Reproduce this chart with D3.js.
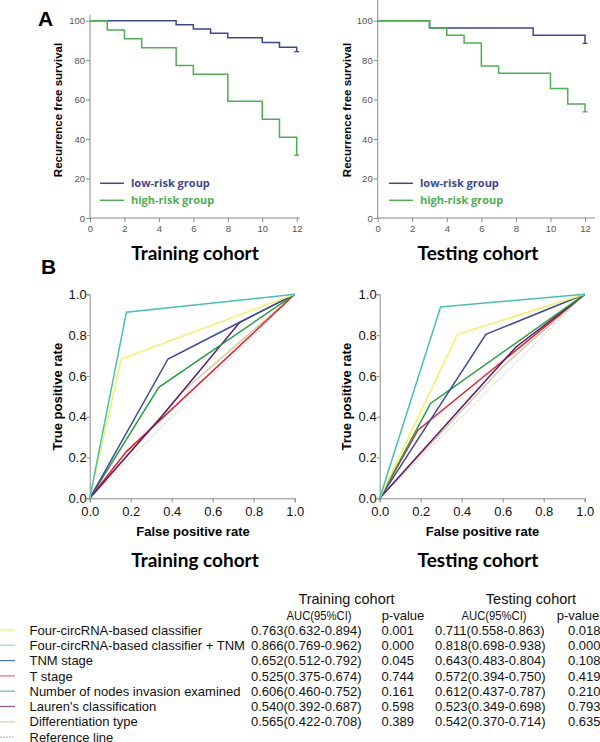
<!DOCTYPE html>
<html><head><meta charset="utf-8">
<script src="https://cdn.jsdelivr.net/npm/d3@7/dist/d3.min.js"></script>
<style>body{margin:0;background:#fff}svg{display:block}</style>
</head><body>
<svg id="c" width="600" height="742"></svg>
<script>
// ---------- DATA ----------
const kmMonths = [0,2,4,6,8,10,12];
const kmYTicks = [0,20,40,60,80,100];
const kmGroups = ["low-risk group","high-risk group"];
// [month, survival %]
const trainLow  = [[0,100],[5,98.0],[6,95.8],[7,93.6],[8,91.4],[10,89.0],[11,86.6],[12,84.3]];
const trainHigh = [[0,100],[1,95.3],[2,90.9],[3,86.3],[5,77.3],[6,72.9],[8,59.2],[10,50.1],[11,40.9],[12,31.8]];
const testLow   = [[0,100],[3,96.3],[9,92.6],[12,88.5]];
const testHigh  = [[0,100],[3,96.3],[4,92.6],[5,88.7],[6,77.1],[7,73.4],[10,65.6],[11,57.8],[12,53.8]];

const rocTicks = [0,0.2,0.4,0.6,0.8,1.0];
const rocNames = ["Four-circRNA-based classifier","Four-circRNA-based classifier + TNM","TNM stage","T stage","Number of nodes invasion examined","Lauren's classification","Differentiation type","Reference line"];
// [FPR, TPR] points
const rocTrain = [
  [[0,0],[0.154,0.683],[1,1]],
  [[0,0],[0.179,0.912],[1,1]],
  [[0,0],[0.382,0.683],[0.732,0.863],[1,1]],
  [[0,0],[0.179,0.229],[1,1]],
  [[0,0],[0.337,0.544],[1,1]],
  [[0,0],[0.35,0.40],[0.732,0.863],[1,1]],
  [[0,0],[0.45,0.52],[1,1]],
  [[0,0],[1,1]]
];
const rocTest = [
  [[0,0],[0.379,0.804],[1,1]],
  [[0,0],[0.297,0.938],[1,1]],
  [[0,0],[0.518,0.804],[1,1]],
  [[0,0],[0.186,0.334],[1,1]],
  [[0,0],[0.248,0.465],[1,1]],
  [[0,0],[0.665,0.742],[1,1]],
  [[0,0],[0.60,0.645],[1,1]],
  [[0,0],[1,1]]
];
const trainAUC = ["0.763(0.632-0.894)","0.866(0.769-0.962)","0.652(0.512-0.792)","0.525(0.375-0.674)","0.606(0.460-0.752)","0.540(0.392-0.687)","0.565(0.422-0.708)"];
const trainP   = ["0.001","0.000","0.045","0.744","0.161","0.598","0.389"];
const testAUC  = ["0.711(0.558-0.863)","0.818(0.698-0.938)","0.643(0.483-0.804)","0.572(0.394-0.750)","0.612(0.437-0.787)","0.523(0.349-0.698)","0.542(0.370-0.714)"];
const testP    = ["0.018","0.000","0.108","0.419","0.210","0.793","0.635"];

// ---------- STYLE ----------
const kmColors = ["#3b4795","#4cb050"];
const rocColors = ["#f4f060","#45c2b4","#3a4a9c","#e8202c","#24a040","#5a1a6e","#d9c9a2","#bbbbbb"];
const legColors = ["#f2ee70","#a6dad4","#5a76b6","#e57890","#76c690","#8a6094","#e9c4c4","#aaaaaa"];
const svg = d3.select("#c");
const axisCol = "#8a8a8a";

// ---------- KM PANELS ----------
function km(cfg){
  const x = d3.scaleLinear().domain([0,12]).range([cfg.x0,cfg.x1]);
  const y = d3.scaleLinear().domain([0,100]).range([218,20.7]);
  const g = svg.append("g");
  const ax = g.append("g").attr("transform",`translate(0,${y(0)})`)
    .call(d3.axisBottom(x).tickValues(kmMonths).tickSize(4).tickPadding(3));
  const ay = g.append("g").attr("transform",`translate(${x(0)},0)`)
    .call(d3.axisLeft(y).tickValues(kmYTicks).tickSize(4).tickPadding(1));
  [ax,ay].forEach(a=>{
    a.select(".domain").remove();
    a.selectAll("line").attr("stroke",axisCol);
    a.selectAll("text").attr("fill","#555").style("font-family","Liberation Sans, Arial").style("font-size","9.5px");
  });
  g.append("line").attr("x1",x(0)).attr("x2",cfg.xEnd).attr("y1",y(0)).attr("y2",y(0)).attr("stroke",axisCol);
  g.append("line").attr("x1",x(0)).attr("x2",x(0)).attr("y1",y(0)).attr("y2",cfg.yTop).attr("stroke",axisCol);
  const line = d3.line().x(d=>x(d[0])).y(d=>y(d[1])).curve(d3.curveStepAfter);
  cfg.series.forEach((s,i)=>{
    g.append("path").attr("d",line(s)).attr("fill","none").attr("stroke",kmColors[i]).attr("stroke-width",1.5);
    const last = s[s.length-1];
    g.append("line").attr("x1",x(last[0])-2.5).attr("x2",x(last[0])+2.5)
      .attr("y1",y(last[1])).attr("y2",y(last[1])).attr("stroke",kmColors[i]).attr("stroke-width",1.3);
  });
  kmGroups.forEach((n,i)=>{
    const yy = 183.3 + i*17;
    g.append("line").attr("x1",cfg.lx).attr("x2",cfg.lx+24).attr("y1",yy).attr("y2",yy)
      .attr("stroke",kmColors[i]).attr("stroke-width",1.5);
    g.append("text").attr("x",cfg.lx+31).attr("y",yy+4).text(n).attr("fill",kmColors[i])
      .style("font-family","Open Sans").style("font-weight","bold").style("font-size","11px");
  });
  g.append("text").attr("transform",`translate(${cfg.labX},110) rotate(-90)`).attr("text-anchor","middle")
    .text("Recurrence free survival").style("font-family","Liberation Sans, Arial").style("font-weight","bold").style("font-size","11.5px");
  g.append("text").attr("x",cfg.tx).attr("y",260).attr("text-anchor","middle").text(cfg.title)
    .style("font-family","Lato").style("font-weight","bold").style("font-size","19px");
}
km({x0:90,x1:296.7,xEnd:300,yTop:15,series:[trainLow,trainHigh],lx:100,labX:62,tx:195,title:"Training cohort"});
km({x0:377.7,x1:585,xEnd:595,yTop:0,series:[testLow,testHigh],lx:389,labX:351,tx:478,title:"Testing cohort"});

// ---------- ROC PANELS ----------
function roc(cfg){
  const x = d3.scaleLinear().domain([0,1]).range([cfg.x0,cfg.x0+205]);
  const y = d3.scaleLinear().domain([0,1]).range([498.3,294.3]);
  const g = svg.append("g");
  const ax = g.append("g").attr("transform",`translate(0,${y(0)})`)
    .call(d3.axisBottom(x).tickValues(rocTicks).tickFormat(d3.format(".1f")).tickSize(4).tickPadding(4));
  const ay = g.append("g").attr("transform",`translate(${x(0)},0)`)
    .call(d3.axisLeft(y).tickValues(rocTicks).tickFormat(d3.format(".1f")).tickSize(3).tickPadding(0));
  [ax,ay].forEach(a=>{
    a.select(".domain").attr("stroke",axisCol);
    a.selectAll("line").attr("stroke",axisCol);
    a.selectAll("text").attr("fill","#111").style("font-family","Liberation Sans, Arial").style("font-size","13px");
  });
  const line = d3.line().x(d=>x(d[0])).y(d=>y(d[1]));
  const order = [7,6,3,5,4,2,0,1];
  order.forEach(i=>{
    g.append("path").attr("d",line(cfg.data[i])).attr("fill","none").attr("stroke",rocColors[i])
      .attr("stroke-width",i===7?1:1.5).attr("stroke-dasharray",i===7?"1.5,1.5":null);
  });
  g.append("text").attr("transform",`translate(${cfg.labX},396.7) rotate(-90)`).attr("text-anchor","middle")
    .text("True positive rate").style("font-family","Liberation Sans, Arial").style("font-weight","bold").style("font-size","13px");
  g.append("text").attr("x",cfg.xlX).attr("y",536).attr("text-anchor","middle").text("False positive rate")
    .style("font-family","Liberation Sans, Arial").style("font-weight","bold").style("font-size","13px");
  g.append("text").attr("x",cfg.tx).attr("y",567).attr("text-anchor","middle").text(cfg.title)
    .style("font-family","Lato").style("font-weight","bold").style("font-size","19px");
}
roc({x0:89.7,data:rocTrain,labX:61.5,xlX:193,tx:195,title:"Training cohort"});
roc({x0:379.7,data:rocTest,labX:351,xlX:482.5,tx:478,title:"Testing cohort"});

// panel letters
svg.append("text").attr("x",38).attr("y",26).text("A").style("font-family","Liberation Sans, Arial").style("font-weight","bold").style("font-size","21px");
svg.append("text").attr("x",41).attr("y",274).text("B").style("font-family","Liberation Sans, Arial").style("font-weight","bold").style("font-size","21px");

// ---------- TABLE ----------
function txt(x,y,s,anchor,size){
  return svg.append("text").attr("x",x).attr("y",y).attr("text-anchor",anchor||"start").text(s).attr("fill","#111")
    .style("font-family","Liberation Sans, Arial").style("font-size",(size||13)+"px");
}
txt(346.5,603.5,"Training cohort","middle",14.5);
txt(531,603.5,"Testing cohort","middle",14.5);
txt(319,619.5,"AUC(95%CI)","middle").attr("textLength",65).attr("lengthAdjust","spacingAndGlyphs");
txt(403,619.5,"p-value","middle");
txt(494,619.5,"AUC(95%CI)","middle").attr("textLength",65).attr("lengthAdjust","spacingAndGlyphs");
txt(578,619.5,"p-value","middle");
const rowY = d3.range(8).map(i=>630+i*15.3);
rocNames.forEach((n,i)=>{
  svg.append("line").attr("x1",0).attr("x2",15).attr("y1",rowY[i]).attr("y2",rowY[i])
    .attr("stroke",legColors[i]).attr("stroke-width",1.3).attr("stroke-dasharray",i===7?"1.5,1.5":null);
  txt(29.5,rowY[i]+4.6,n);
  if(i<7){
    txt(251,rowY[i]+4.6,trainAUC[i]);
    txt(381.5,rowY[i]+4.6,trainP[i]);
    txt(435,rowY[i]+4.6,testAUC[i]);
    txt(568,rowY[i]+4.6,testP[i]);
  }
});
</script>
</body></html>
